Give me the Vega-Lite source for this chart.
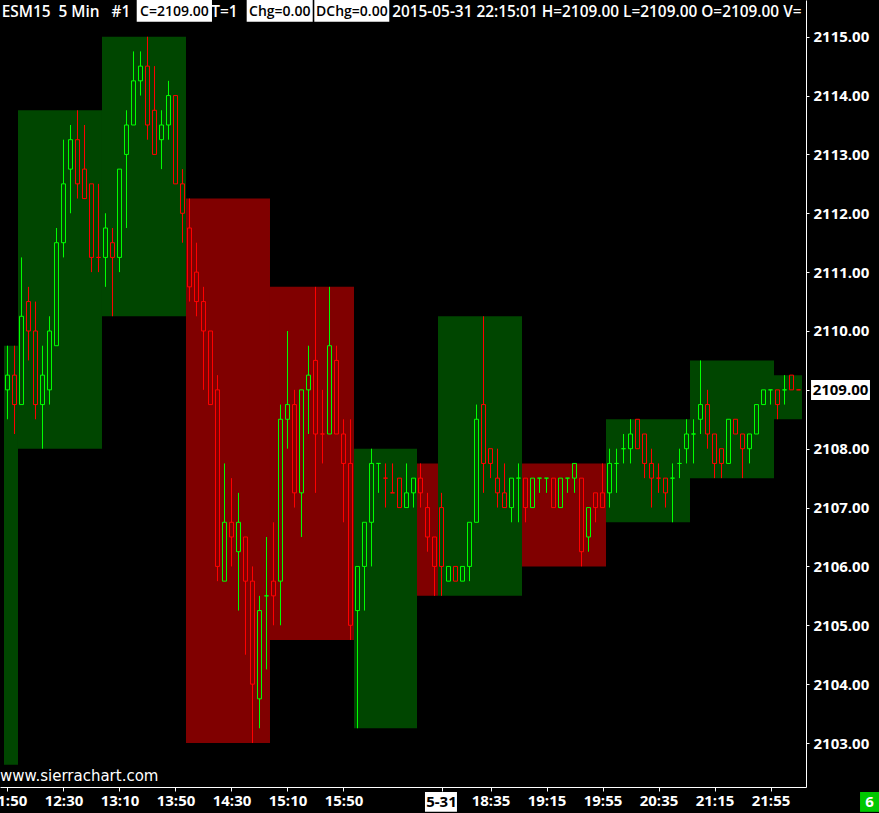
{
  "$schema": "https://vega.github.io/schema/vega-lite/v6.json",
  "width": 806,
  "height": 787,
  "autosize": {"type": "none"},
  "padding": {"left": 0, "top": 0, "right": 73, "bottom": 26},
  "background": "black",
  "config": {"view": {"stroke": null}},
  "datasets": {
    "blocks": [
      {"k0": -2.5, "k1": -0.5, "h": 2109.75, "l": 2102.63, "d": "up"},
      {"k0": -0.5, "k1": 11.5, "h": 2113.75, "l": 2108.0, "d": "up"},
      {"k0": 11.5, "k1": 23.5, "h": 2115.0, "l": 2110.25, "d": "up"},
      {"k0": 23.5, "k1": 35.5, "h": 2112.25, "l": 2103.0, "d": "dn"},
      {"k0": 35.5, "k1": 47.5, "h": 2110.75, "l": 2104.75, "d": "dn"},
      {"k0": 47.5, "k1": 56.5, "h": 2108.0, "l": 2103.25, "d": "up"},
      {"k0": 56.5, "k1": 59.5, "h": 2107.75, "l": 2105.5, "d": "dn"},
      {"k0": 59.5, "k1": 71.5, "h": 2110.25, "l": 2105.5, "d": "up"},
      {"k0": 71.5, "k1": 83.5, "h": 2107.75, "l": 2106.0, "d": "dn"},
      {"k0": 83.5, "k1": 95.5, "h": 2108.5, "l": 2106.75, "d": "up"},
      {"k0": 95.5, "k1": 107.5, "h": 2109.5, "l": 2107.5, "d": "up"},
      {"k0": 107.5, "k1": 111.5, "h": 2109.25, "l": 2108.5, "d": "up"}
    ],
    "candles": [
      {"k": -2, "o": 2109.0, "h": 2109.75, "l": 2108.5, "c": 2109.25, "d": "up"},
      {"k": -1, "o": 2109.25, "h": 2109.75, "l": 2108.25, "c": 2108.75, "d": "dn"},
      {"k": 0, "o": 2108.75, "h": 2111.25, "l": 2108.75, "c": 2110.25, "d": "up"},
      {"k": 1, "o": 2110.5, "h": 2110.75, "l": 2109.5, "c": 2110.0, "d": "dn"},
      {"k": 2, "o": 2110.0, "h": 2110.5, "l": 2108.5, "c": 2108.75, "d": "dn"},
      {"k": 3, "o": 2108.75, "h": 2109.75, "l": 2108.0, "c": 2109.25, "d": "up"},
      {"k": 4, "o": 2109.0, "h": 2110.25, "l": 2108.75, "c": 2110.0, "d": "up"},
      {"k": 5, "o": 2109.75, "h": 2111.75, "l": 2109.75, "c": 2111.5, "d": "up"},
      {"k": 6, "o": 2111.5, "h": 2113.25, "l": 2111.25, "c": 2112.5, "d": "up"},
      {"k": 7, "o": 2112.75, "h": 2113.5, "l": 2112.0, "c": 2113.25, "d": "up"},
      {"k": 8, "o": 2113.25, "h": 2113.75, "l": 2112.25, "c": 2112.5, "d": "dn"},
      {"k": 9, "o": 2112.75, "h": 2113.5, "l": 2112.25, "c": 2112.25, "d": "dn"},
      {"k": 10, "o": 2112.5, "h": 2112.5, "l": 2111.0, "c": 2111.25, "d": "dn"},
      {"k": 11, "o": 2111.25, "h": 2112.5, "l": 2111.0, "c": 2111.25, "d": "dn"},
      {"k": 12, "o": 2111.25, "h": 2112.0, "l": 2110.75, "c": 2111.75, "d": "up"},
      {"k": 13, "o": 2111.5, "h": 2111.75, "l": 2110.25, "c": 2111.25, "d": "dn"},
      {"k": 14, "o": 2111.25, "h": 2112.75, "l": 2111.0, "c": 2112.75, "d": "up"},
      {"k": 15, "o": 2113.0, "h": 2113.75, "l": 2111.75, "c": 2113.5, "d": "up"},
      {"k": 16, "o": 2113.5, "h": 2114.75, "l": 2113.5, "c": 2114.25, "d": "up"},
      {"k": 17, "o": 2114.25, "h": 2114.75, "l": 2114.0, "c": 2114.5, "d": "up"},
      {"k": 18, "o": 2114.5, "h": 2115.0, "l": 2113.25, "c": 2113.5, "d": "dn"},
      {"k": 19, "o": 2113.75, "h": 2114.5, "l": 2113.0, "c": 2113.0, "d": "dn"},
      {"k": 20, "o": 2113.25, "h": 2113.75, "l": 2112.75, "c": 2113.5, "d": "up"},
      {"k": 21, "o": 2113.5, "h": 2114.25, "l": 2113.25, "c": 2114.0, "d": "up"},
      {"k": 22, "o": 2114.0, "h": 2114.0, "l": 2112.5, "c": 2112.5, "d": "dn"},
      {"k": 23, "o": 2112.5, "h": 2112.75, "l": 2111.5, "c": 2112.0, "d": "dn"},
      {"k": 24, "o": 2111.75, "h": 2112.25, "l": 2110.5, "c": 2110.75, "d": "dn"},
      {"k": 25, "o": 2111.0, "h": 2111.5, "l": 2110.25, "c": 2110.5, "d": "dn"},
      {"k": 26, "o": 2110.5, "h": 2110.75, "l": 2109.0, "c": 2110.0, "d": "dn"},
      {"k": 27, "o": 2110.0, "h": 2110.0, "l": 2108.75, "c": 2108.75, "d": "dn"},
      {"k": 28, "o": 2109.0, "h": 2109.25, "l": 2105.75, "c": 2106.0, "d": "dn"},
      {"k": 29, "o": 2105.75, "h": 2107.75, "l": 2105.75, "c": 2106.75, "d": "up"},
      {"k": 30, "o": 2106.75, "h": 2107.5, "l": 2106.0, "c": 2106.5, "d": "dn"},
      {"k": 31, "o": 2106.25, "h": 2107.25, "l": 2105.25, "c": 2106.75, "d": "up"},
      {"k": 32, "o": 2106.5, "h": 2106.5, "l": 2104.5, "c": 2105.75, "d": "dn"},
      {"k": 33, "o": 2105.75, "h": 2106.0, "l": 2103.0, "c": 2104.0, "d": "dn"},
      {"k": 34, "o": 2103.75, "h": 2105.5, "l": 2103.25, "c": 2105.25, "d": "up"},
      {"k": 35, "o": 2105.5, "h": 2106.5, "l": 2104.25, "c": 2105.5, "d": "up"},
      {"k": 36, "o": 2105.75, "h": 2106.75, "l": 2105.0, "c": 2105.5, "d": "dn"},
      {"k": 37, "o": 2105.75, "h": 2108.75, "l": 2105.0, "c": 2108.5, "d": "up"},
      {"k": 38, "o": 2108.5, "h": 2110.0, "l": 2108.0, "c": 2108.75, "d": "up"},
      {"k": 39, "o": 2108.75, "h": 2109.0, "l": 2107.0, "c": 2107.25, "d": "dn"},
      {"k": 40, "o": 2107.25, "h": 2109.0, "l": 2106.5, "c": 2109.0, "d": "up"},
      {"k": 41, "o": 2109.0, "h": 2109.75, "l": 2108.25, "c": 2109.25, "d": "up"},
      {"k": 42, "o": 2109.5, "h": 2110.75, "l": 2107.25, "c": 2108.25, "d": "dn"},
      {"k": 43, "o": 2108.25, "h": 2109.0, "l": 2107.75, "c": 2108.25, "d": "dn"},
      {"k": 44, "o": 2108.25, "h": 2110.75, "l": 2108.25, "c": 2109.75, "d": "up"},
      {"k": 45, "o": 2109.5, "h": 2109.75, "l": 2108.25, "c": 2108.25, "d": "dn"},
      {"k": 46, "o": 2108.25, "h": 2108.5, "l": 2106.75, "c": 2107.75, "d": "dn"},
      {"k": 47, "o": 2107.75, "h": 2108.5, "l": 2104.75, "c": 2105.0, "d": "dn"},
      {"k": 48, "o": 2105.25, "h": 2106.0, "l": 2103.25, "c": 2106.0, "d": "up"},
      {"k": 49, "o": 2106.0, "h": 2106.75, "l": 2105.25, "c": 2106.75, "d": "up"},
      {"k": 50, "o": 2106.75, "h": 2108.0, "l": 2106.0, "c": 2107.75, "d": "up"},
      {"k": 51, "o": 2107.75, "h": 2107.75, "l": 2107.25, "c": 2107.75, "d": "up"},
      {"k": 52, "o": 2107.5, "h": 2107.75, "l": 2107.0, "c": 2107.5, "d": "dn"},
      {"k": 53, "o": 2107.25, "h": 2107.75, "l": 2107.25, "c": 2107.25, "d": "dn"},
      {"k": 54, "o": 2107.5, "h": 2107.5, "l": 2107.0, "c": 2107.0, "d": "dn"},
      {"k": 55, "o": 2107.0, "h": 2107.75, "l": 2107.0, "c": 2107.25, "d": "up"},
      {"k": 56, "o": 2107.25, "h": 2107.5, "l": 2107.0, "c": 2107.5, "d": "up"},
      {"k": 57, "o": 2107.5, "h": 2107.75, "l": 2107.0, "c": 2107.25, "d": "dn"},
      {"k": 58, "o": 2107.0, "h": 2107.25, "l": 2106.25, "c": 2106.5, "d": "dn"},
      {"k": 59, "o": 2106.5, "h": 2106.5, "l": 2105.5, "c": 2106.0, "d": "dn"},
      {"k": 60, "o": 2107.0, "h": 2107.25, "l": 2105.5, "c": 2106.0, "d": "dn"},
      {"k": 61, "o": 2105.75, "h": 2106.0, "l": 2105.75, "c": 2106.0, "d": "up"},
      {"k": 62, "o": 2106.0, "h": 2106.0, "l": 2105.75, "c": 2105.75, "d": "dn"},
      {"k": 63, "o": 2105.75, "h": 2106.0, "l": 2105.75, "c": 2106.0, "d": "up"},
      {"k": 64, "o": 2106.0, "h": 2106.75, "l": 2105.75, "c": 2106.75, "d": "up"},
      {"k": 65, "o": 2106.75, "h": 2108.75, "l": 2106.75, "c": 2108.5, "d": "up"},
      {"k": 66, "o": 2108.75, "h": 2110.25, "l": 2107.25, "c": 2107.75, "d": "dn"},
      {"k": 67, "o": 2108.0, "h": 2108.0, "l": 2107.5, "c": 2107.75, "d": "dn"},
      {"k": 68, "o": 2107.5, "h": 2108.0, "l": 2107.0, "c": 2107.25, "d": "dn"},
      {"k": 69, "o": 2107.25, "h": 2107.75, "l": 2107.0, "c": 2107.0, "d": "dn"},
      {"k": 70, "o": 2107.0, "h": 2107.5, "l": 2106.75, "c": 2107.5, "d": "up"},
      {"k": 71, "o": 2107.5, "h": 2107.75, "l": 2106.75, "c": 2107.5, "d": "up"},
      {"k": 72, "o": 2107.5, "h": 2107.5, "l": 2106.75, "c": 2107.0, "d": "dn"},
      {"k": 73, "o": 2107.0, "h": 2107.5, "l": 2107.0, "c": 2107.5, "d": "up"},
      {"k": 74, "o": 2107.5, "h": 2107.5, "l": 2107.25, "c": 2107.5, "d": "up"},
      {"k": 75, "o": 2107.5, "h": 2107.5, "l": 2107.25, "c": 2107.5, "d": "up"},
      {"k": 76, "o": 2107.5, "h": 2107.5, "l": 2107.0, "c": 2107.0, "d": "dn"},
      {"k": 77, "o": 2107.0, "h": 2107.5, "l": 2107.0, "c": 2107.5, "d": "up"},
      {"k": 78, "o": 2107.5, "h": 2107.5, "l": 2107.25, "c": 2107.5, "d": "up"},
      {"k": 79, "o": 2107.5, "h": 2107.75, "l": 2107.25, "c": 2107.75, "d": "up"},
      {"k": 80, "o": 2107.5, "h": 2107.5, "l": 2106.0, "c": 2106.25, "d": "dn"},
      {"k": 81, "o": 2106.5, "h": 2107.0, "l": 2106.25, "c": 2107.0, "d": "up"},
      {"k": 82, "o": 2107.25, "h": 2107.25, "l": 2106.75, "c": 2107.0, "d": "dn"},
      {"k": 83, "o": 2107.25, "h": 2107.75, "l": 2107.0, "c": 2107.0, "d": "dn"},
      {"k": 84, "o": 2107.25, "h": 2108.0, "l": 2107.0, "c": 2107.75, "d": "up"},
      {"k": 85, "o": 2107.75, "h": 2108.0, "l": 2107.25, "c": 2107.75, "d": "up"},
      {"k": 86, "o": 2108.0, "h": 2108.25, "l": 2107.75, "c": 2108.0, "d": "up"},
      {"k": 87, "o": 2108.0, "h": 2108.5, "l": 2107.75, "c": 2108.25, "d": "up"},
      {"k": 88, "o": 2108.5, "h": 2108.5, "l": 2108.0, "c": 2108.0, "d": "dn"},
      {"k": 89, "o": 2108.25, "h": 2108.25, "l": 2107.5, "c": 2107.75, "d": "dn"},
      {"k": 90, "o": 2107.75, "h": 2108.0, "l": 2107.0, "c": 2107.5, "d": "dn"},
      {"k": 91, "o": 2107.5, "h": 2107.75, "l": 2107.25, "c": 2107.5, "d": "dn"},
      {"k": 92, "o": 2107.5, "h": 2107.5, "l": 2107.0, "c": 2107.25, "d": "dn"},
      {"k": 93, "o": 2107.5, "h": 2107.75, "l": 2106.75, "c": 2107.5, "d": "up"},
      {"k": 94, "o": 2107.75, "h": 2108.0, "l": 2107.5, "c": 2107.75, "d": "up"},
      {"k": 95, "o": 2108.0, "h": 2108.5, "l": 2107.75, "c": 2108.25, "d": "up"},
      {"k": 96, "o": 2108.25, "h": 2108.5, "l": 2107.75, "c": 2108.25, "d": "up"},
      {"k": 97, "o": 2108.5, "h": 2109.5, "l": 2108.25, "c": 2108.75, "d": "up"},
      {"k": 98, "o": 2108.75, "h": 2109.0, "l": 2108.0, "c": 2108.25, "d": "dn"},
      {"k": 99, "o": 2108.25, "h": 2108.25, "l": 2107.5, "c": 2107.75, "d": "dn"},
      {"k": 100, "o": 2108.0, "h": 2108.0, "l": 2107.5, "c": 2107.75, "d": "dn"},
      {"k": 101, "o": 2107.75, "h": 2108.5, "l": 2107.75, "c": 2108.5, "d": "up"},
      {"k": 102, "o": 2108.5, "h": 2108.5, "l": 2108.25, "c": 2108.25, "d": "dn"},
      {"k": 103, "o": 2108.25, "h": 2108.25, "l": 2107.5, "c": 2108.0, "d": "dn"},
      {"k": 104, "o": 2108.0, "h": 2108.25, "l": 2107.75, "c": 2108.25, "d": "up"},
      {"k": 105, "o": 2108.25, "h": 2108.75, "l": 2108.25, "c": 2108.75, "d": "up"},
      {"k": 106, "o": 2108.75, "h": 2109.0, "l": 2108.75, "c": 2109.0, "d": "up"},
      {"k": 107, "o": 2109.0, "h": 2109.0, "l": 2108.75, "c": 2109.0, "d": "up"},
      {"k": 108, "o": 2109.0, "h": 2109.0, "l": 2108.5, "c": 2108.75, "d": "dn"},
      {"k": 109, "o": 2109.0, "h": 2109.25, "l": 2108.75, "c": 2109.0, "d": "up"},
      {"k": 110, "o": 2109.25, "h": 2109.25, "l": 2109.0, "c": 2109.0, "d": "dn"},
      {"k": 111, "o": 2109.0, "h": 2109.0, "l": 2109.0, "c": 2109.0, "d": "dn"}
    ]
  },
  "layer": [
    {
      "data": {"name": "blocks"},
      "mark": {"type": "rect", "clip": true},
      "encoding": {
        "x": {
          "field": "k0", "type": "quantitative", "title": null,
          "scale": {"domain": [-3.0714, 112.0714], "nice": false, "zero": false, "padding": 0},
          "axis": {
            "orient": "bottom",
            "values": [-2, 6, 14, 22, 30, 38, 46, 60, 67, 75, 83, 91, 99, 107],
            "labelExpr": "['11:50','12:30','13:10','13:50','14:30','15:10','15:50','5-31','18:35','19:15','19:55','20:35','21:15','21:55'][indexof([-2,6,14,22,30,38,46,60,67,75,83,91,99,107], datum.value)]",
            "grid": false,
            "domainColor": "white",
            "tickColor": "white",
            "tickSize": 4,
            "labelColor": {"condition": {"test": "datum.value == 60", "value": "black"}, "value": "white"},
            "labelFont": "Open Sans",
            "labelFontSize": 15,
            "labelFontWeight": "bold",
            "labelPadding": 2,
            "labelOverlap": false,
            "labelBound": false,
            "labelFlush": false
          }
        },
        "x2": {"field": "k1"},
        "y": {
          "field": "h", "type": "quantitative", "title": null,
          "scale": {"domain": [2102.2525, 2115.6235], "nice": false, "zero": false, "padding": 0},
          "axis": {
            "orient": "right",
            "values": [2103, 2104, 2105, 2106, 2107, 2108, 2109, 2110, 2111, 2112, 2113, 2114, 2115],
            "format": ".2f",
            "grid": false,
            "domainColor": "white",
            "tickColor": "white",
            "tickSize": 3,
            "labelColor": {"condition": {"test": "datum.value == 2109", "value": "black"}, "value": "white"},
            "labelFont": "Open Sans",
            "labelFontSize": 15,
            "labelFontWeight": "bold",
            "labelPadding": 4,
            "labelOverlap": false
          }
        },
        "y2": {"field": "l"},
        "color": {"condition": {"test": "datum.d == 'up'", "value": "#004600"}, "value": "#800000"}
      }
    },
    {
      "data": {"name": "candles"},
      "transform": [{"filter": "datum.d == 'up'"}],
      "layer": [
        {
          "mark": {"type": "rule", "color": "#00ff00", "strokeWidth": 1},
          "encoding": {
            "x": {"field": "k", "type": "quantitative", "title": null},
            "y": {"field": "h", "type": "quantitative", "title": null},
            "y2": {"field": "c"}
          }
        },
        {
          "mark": {"type": "rule", "color": "#00ff00", "strokeWidth": 1},
          "encoding": {
            "x": {"field": "k", "type": "quantitative", "title": null},
            "y": {"field": "l", "type": "quantitative", "title": null},
            "y2": {"field": "o"}
          }
        }
      ]
    },
    {
      "data": {"name": "candles"},
      "transform": [{"filter": "datum.d == 'dn'"}],
      "layer": [
        {
          "mark": {"type": "rule", "color": "#ff0000", "strokeWidth": 1},
          "encoding": {
            "x": {"field": "k", "type": "quantitative", "title": null},
            "y": {"field": "h", "type": "quantitative", "title": null},
            "y2": {"field": "o"}
          }
        },
        {
          "mark": {"type": "rule", "color": "#ff0000", "strokeWidth": 1},
          "encoding": {
            "x": {"field": "k", "type": "quantitative", "title": null},
            "y": {"field": "l", "type": "quantitative", "title": null},
            "y2": {"field": "c"}
          }
        }
      ]
    },
    {
      "data": {"name": "candles"},
      "mark": {"type": "bar", "width": 4, "filled": false, "strokeWidth": 1},
      "encoding": {
        "x": {"field": "k", "type": "quantitative", "title": null},
        "y": {"field": "o", "type": "quantitative", "title": null},
        "y2": {"field": "c"},
        "color": {"condition": {"test": "datum.d == 'up'", "value": "#00ff00"}, "value": "#ff0000"}
      }
    },
    {
      "data": {"values": [{"t": "www.sierrachart.com"}]},
      "mark": {"type": "text", "align": "left", "baseline": "middle", "color": "white", "font": "DejaVu Sans", "fontSize": 15},
      "encoding": {
        "x": {"datum": -3.0714, "type": "quantitative"},
        "y": {"datum": 2102.44, "type": "quantitative"},
        "text": {"field": "t"}
      }
    },
    {
      "data": {"values": [{"t": "ESM15\u00a0\u00a05 Min\u00a0\u00a0\u00a0#1"}]},
      "mark": {"type": "text", "align": "left", "baseline": "middle", "color": "white", "font": "Open Sans", "fontSize": 15.4, "fontWeight": 600},
      "encoding": {
        "x": {"datum": -2.83, "type": "quantitative"},
        "y": {"datum": 2115.42, "type": "quantitative"},
        "text": {"field": "t"}
      }
    },
    {
      "data": {"values": [{"t": "T=1"}]},
      "mark": {"type": "text", "align": "center", "baseline": "middle", "color": "white", "font": "Open Sans", "fontSize": 15.4, "fontWeight": 600},
      "encoding": {
        "x": {"datum": 29.0, "type": "quantitative"},
        "y": {"datum": 2115.42, "type": "quantitative"},
        "text": {"field": "t"}
      }
    },
    {
      "data": {"values": [{"t": "2015-05-31 22:15:01 H=2109.00 L=2109.00 O=2109.00 V="}]},
      "mark": {"type": "text", "align": "left", "baseline": "middle", "color": "white", "font": "Open Sans", "fontSize": 15.4, "fontWeight": 600, "clip": true},
      "encoding": {
        "x": {"datum": 52.95, "type": "quantitative"},
        "y": {"datum": 2115.42, "type": "quantitative"},
        "text": {"field": "t"}
      }
    },
    {
      "data": {"values": [
        {"t": "C=2109.00", "a": 16.46, "b": 27.21, "m": 21.84},
        {"t": "Chg=0.00", "a": 32.17, "b": 41.6, "m": 36.89},
        {"t": "DChg=0.00", "a": 41.83, "b": 52.54, "m": 47.19}
      ]},
      "layer": [
        {
          "mark": {"type": "rect", "color": "white"},
          "encoding": {
            "x": {"field": "a", "type": "quantitative"},
            "x2": {"field": "b"},
            "y": {"datum": 2115.6235, "type": "quantitative"},
            "y2": {"datum": 2115.255}
          }
        },
        {
          "mark": {"type": "text", "align": "center", "baseline": "middle", "color": "black", "font": "Open Sans", "fontSize": 14, "fontWeight": 600},
          "encoding": {
            "x": {"field": "m", "type": "quantitative"},
            "y": {"datum": 2115.42, "type": "quantitative"},
            "text": {"field": "t"}
          }
        }
      ]
    },
    {
      "data": {"values": [{"t": "2109.00"}]},
      "layer": [
        {
          "mark": {"type": "rect", "color": "white"},
          "encoding": {
            "x": {"datum": 112.79, "type": "quantitative"},
            "x2": {"datum": 121.21},
            "y": {"datum": 2109.167, "type": "quantitative"},
            "y2": {"datum": 2108.827}
          }
        },
        {
          "mark": {"type": "text", "align": "center", "baseline": "middle", "color": "black", "font": "Open Sans", "fontSize": 15, "fontWeight": "bold"},
          "encoding": {
            "x": {"datum": 117.0, "type": "quantitative"},
            "y": {"datum": 2109.0, "type": "quantitative"},
            "text": {"field": "t"}
          }
        }
      ]
    },
    {
      "data": {"values": [{"t": "5-31"}]},
      "layer": [
        {
          "mark": {"type": "rect", "color": "white"},
          "encoding": {
            "x": {"datum": 57.64, "type": "quantitative"},
            "x2": {"datum": 62.21},
            "y": {"datum": 2102.168, "type": "quantitative"},
            "y2": {"datum": 2101.83}
          }
        },
        {
          "mark": {"type": "text", "align": "center", "baseline": "middle", "color": "black", "font": "Open Sans", "fontSize": 15, "fontWeight": "bold"},
          "encoding": {
            "x": {"datum": 60, "type": "quantitative"},
            "y": {"datum": 2102.0, "type": "quantitative"},
            "text": {"field": "t"}
          }
        }
      ]
    },
    {
      "data": {"values": [{"t": "6"}]},
      "layer": [
        {
          "mark": {"type": "rect", "color": "#00c800"},
          "encoding": {
            "x": {"datum": 119.79, "type": "quantitative"},
            "x2": {"datum": 122.5},
            "y": {"datum": 2102.168, "type": "quantitative"},
            "y2": {"datum": 2101.83}
          }
        },
        {
          "mark": {"type": "text", "align": "center", "baseline": "middle", "color": "white", "font": "Open Sans", "fontSize": 15, "fontWeight": "bold"},
          "encoding": {
            "x": {"datum": 121.14, "type": "quantitative"},
            "y": {"datum": 2102.0, "type": "quantitative"},
            "text": {"field": "t"}
          }
        }
      ]
    }
  ]
}
